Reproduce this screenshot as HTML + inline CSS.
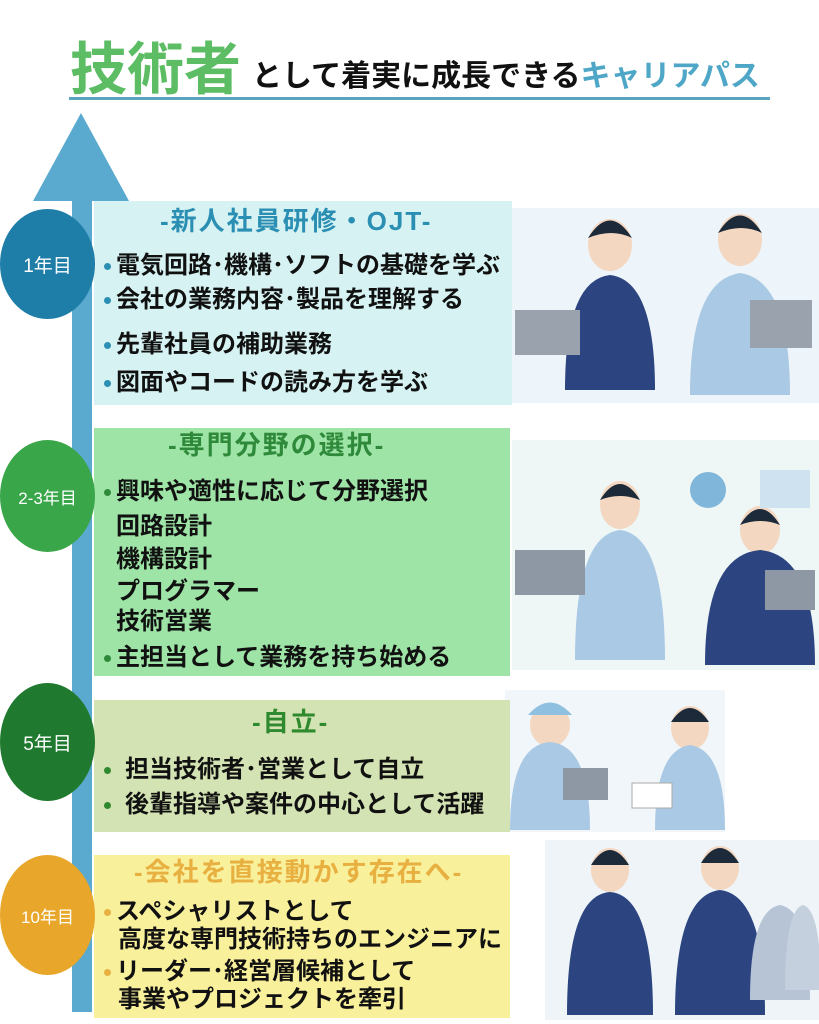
<!DOCTYPE html>
<html><head><meta charset="utf-8"><style>
body{margin:0;width:819px;height:1024px;background:#fff;position:relative;overflow:hidden;font-family:"Liberation Sans","Noto Sans CJK JP",sans-serif;}
.a{position:absolute;white-space:nowrap;line-height:1;}
.t{font-weight:bold;font-size:24px;color:#111;}
.h{font-weight:bold;font-size:26px;letter-spacing:2px;}
.c{position:absolute;border-radius:50%;color:#fff;display:flex;align-items:center;justify-content:center;font-size:19px;}
.d{display:inline-block;width:7px;height:7px;border-radius:50%;margin-right:5px;vertical-align:middle;}
</style></head><body>
<div class="a" style="left:70px;top:42px;font-size:57px;font-weight:bold;color:#5cbd64;">技術者</div>
<div class="a" style="left:252px;top:62px;font-size:30px;font-weight:bold;color:#111;">として着実に成長できる<span style="color:#4ea7c6">キャリアパス</span></div>
<div class="a" style="left:69px;top:97px;width:701px;height:3px;background:#5aa5c0;"></div>

<svg class="a" style="left:0;top:0" width="819" height="1024">
<polygon points="81,113 129,201 33,201" fill="#5aaacf"/>
<rect x="72" y="200" width="20" height="812" fill="#5aaacf"/>
<rect x="512" y="208" width="307" height="195" fill="#eef5fa"/>
<rect x="512" y="440" width="307" height="230" fill="#eef6f6"/>
<rect x="505" y="690" width="220" height="142" fill="#f1f6fa"/>
<rect x="545" y="840" width="274" height="180" fill="#eef4f8"/>
<g>
<ellipse cx="610" cy="245" rx="22" ry="26" fill="#f3d7c0"/><path d="M588 238 q22 -35 44 0 q-20 -10 -44 0z" fill="#1d2a3a"/>
<path d="M565 390 q0 -110 45 -115 q45 5 45 115z" fill="#2c4580"/>
<rect x="515" y="310" width="65" height="45" fill="#9aa3ad"/>
<ellipse cx="740" cy="240" rx="22" ry="26" fill="#f3d7c0"/><path d="M718 233 q22 -35 44 0 q-20 -10 -44 0z" fill="#1d2a3a"/>
<path d="M690 395 q0 -115 50 -122 q50 7 50 122z" fill="#a9c9e4"/>
<rect x="750" y="300" width="62" height="48" fill="#9aa3ad"/>
</g>
<g>
<ellipse cx="620" cy="505" rx="20" ry="24" fill="#f3d7c0"/><path d="M600 500 q20 -32 40 0 q-20 -8 -40 0z" fill="#1d2a3a"/>
<path d="M575 660 q0 -125 45 -130 q45 5 45 130z" fill="#a9c9e4"/>
<rect x="515" y="550" width="70" height="45" fill="#8e98a4"/>
<ellipse cx="760" cy="530" rx="20" ry="24" fill="#f3d7c0"/><path d="M740 525 q20 -32 40 0 q-20 -8 -40 0z" fill="#1d2a3a"/>
<path d="M705 665 q0 -110 55 -115 q55 5 55 115z" fill="#2c4580"/>
<rect x="765" y="570" width="50" height="40" fill="#8e98a4"/>
<circle cx="708" cy="490" r="18" fill="#7fb6d9"/>
<rect x="760" y="470" width="50" height="38" fill="#cfe2ef"/>
</g>
<g>
<ellipse cx="550" cy="725" rx="20" ry="22" fill="#f3d7c0"/><path d="M528 715 q22 -25 44 0z" fill="#8fc0e0"/>
<path d="M510 830 q0 -85 40 -88 q40 3 40 88z" fill="#a9c9e4"/>
<rect x="563" y="768" width="45" height="32" fill="#8e98a4"/>
<ellipse cx="690" cy="728" rx="19" ry="22" fill="#f3d7c0"/><path d="M671 722 q19 -28 38 0z" fill="#1d2a3a"/>
<path d="M655 830 q0 -80 35 -85 q35 5 35 85z" fill="#a9c9e4"/>
<rect x="632" y="783" width="40" height="25" fill="#fff" stroke="#aaa"/>
</g>
<g>
<ellipse cx="610" cy="870" rx="19" ry="22" fill="#f3d7c0"/><path d="M591 865 q19 -30 38 0z" fill="#1d2a3a"/>
<path d="M567 1015 q0 -120 43 -123 q43 3 43 123z" fill="#2c4580"/>
<ellipse cx="720" cy="868" rx="19" ry="22" fill="#f3d7c0"/><path d="M701 863 q19 -30 38 0z" fill="#1d2a3a"/>
<path d="M675 1015 q0 -120 45 -125 q45 5 45 125z" fill="#2c4580"/>
<path d="M750 1000 q0 -90 30 -95 q30 5 30 95z" fill="#b7c4d6"/>
<path d="M785 990 q0 -80 18 -85 q18 5 18 85z" fill="#c5d0de"/>
</g>
</svg>

<div class="a" style="left:94px;top:201px;width:418px;height:204px;background:#d6f2f2;"></div>
<div class="a" style="left:94px;top:428px;width:416px;height:248px;background:#9ee4a6;"></div>
<div class="a" style="left:94px;top:700px;width:416px;height:132px;background:#d3e3b3;"></div>
<div class="a" style="left:94px;top:855px;width:416px;height:163px;background:#f9f09c;"></div>

<div class="c" style="left:0;top:209px;width:95px;height:110px;background:#1f7ea8;">1年目</div>
<div class="c" style="left:0;top:440px;width:95px;height:112px;background:#3aa64a;font-size:17px;">2-3年目</div>
<div class="c" style="left:0;top:683px;width:95px;height:118px;background:#1f7a30;">5年目</div>
<div class="c" style="left:0;top:855px;width:95px;height:120px;background:#e8a72a;font-size:17px;">10年目</div>

<div class="a h" style="left:160px;top:208px;color:#2b8fb3;">-新人社員研修・OJT-</div>
<div class="a t" style="left:104px;top:254px;"><span class="d" style="background:#2b8fb3"></span>電気回路･機構･ソフトの基礎を学ぶ</div>
<div class="a t" style="left:104px;top:288px;"><span class="d" style="background:#2b8fb3"></span>会社の業務内容･製品を理解する</div>
<div class="a t" style="left:104px;top:333px;"><span class="d" style="background:#2b8fb3"></span>先輩社員の補助業務</div>
<div class="a t" style="left:104px;top:371px;"><span class="d" style="background:#2b8fb3"></span>図面やコードの読み方を学ぶ</div>

<div class="a h" style="left:168px;top:432px;color:#2e8a3a;">-専門分野の選択-</div>
<div class="a t" style="left:104px;top:480px;"><span class="d" style="background:#2e8a3a"></span>興味や適性に応じて分野選択</div>
<div class="a t" style="left:116px;top:515px;">回路設計</div>
<div class="a t" style="left:116px;top:548px;">機構設計</div>
<div class="a t" style="left:116px;top:580px;">プログラマー</div>
<div class="a t" style="left:116px;top:610px;">技術営業</div>
<div class="a t" style="left:104px;top:646px;"><span class="d" style="background:#2e8a3a"></span>主担当として業務を持ち始める</div>

<div class="a h" style="left:252px;top:709px;color:#2f8a2f;">-自立-</div>
<div class="a t" style="left:104px;top:758px;"><span class="d" style="background:#2f8a2f;margin-right:14px"></span>担当技術者･営業として自立</div>
<div class="a t" style="left:104px;top:793px;"><span class="d" style="background:#2f8a2f;margin-right:14px"></span>後輩指導や案件の中心として活躍</div>

<div class="a h" style="left:134px;top:859px;color:#e8b040;">-会社を直接動かす存在へ-</div>
<div class="a t" style="left:104px;top:900px;"><span class="d" style="background:#e8b040"></span>スペシャリストとして</div>
<div class="a t" style="left:118px;top:928px;">高度な専門技術持ちのエンジニアに</div>
<div class="a t" style="left:104px;top:960px;"><span class="d" style="background:#e8b040"></span>リーダー･経営層候補として</div>
<div class="a t" style="left:118px;top:988px;">事業やプロジェクトを牽引</div>
</body></html>
